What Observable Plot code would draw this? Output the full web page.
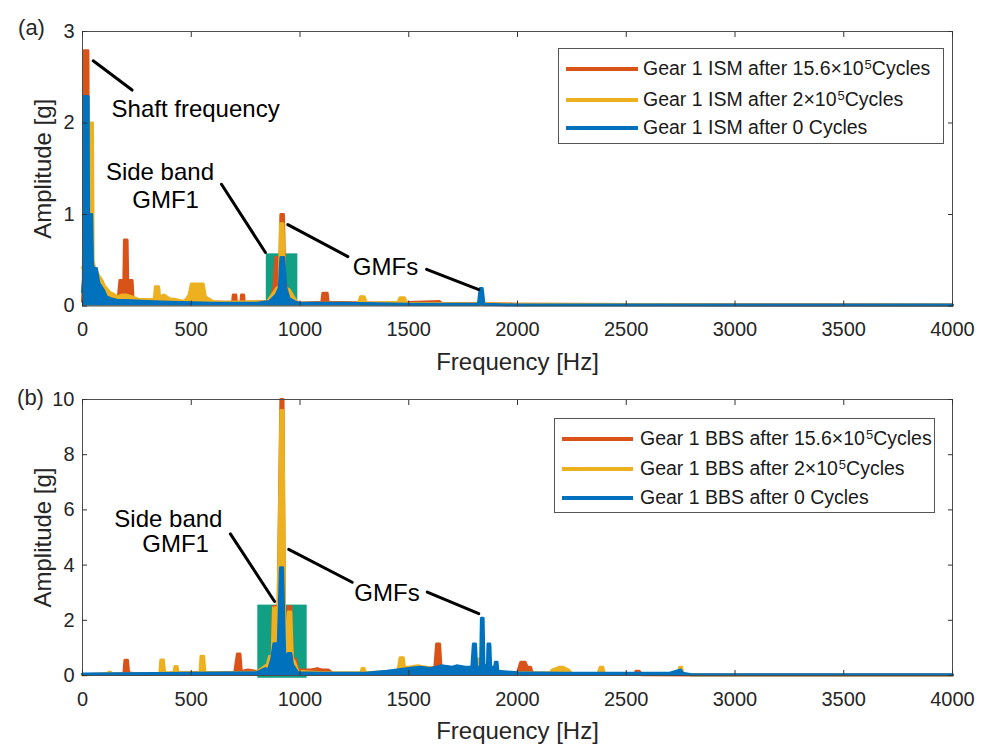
<!DOCTYPE html>
<html><head><meta charset="utf-8">
<script src="https://cdn.jsdelivr.net/npm/d3@7"></script>
<script src="https://cdn.jsdelivr.net/npm/@observablehq/plot@0.6"></script>
<style>
body{margin:0;background:#fff;font-family:"Liberation Sans",Arial,sans-serif;}
#fig{position:relative;width:987px;height:744px;overflow:hidden;background:#fff;}
.panel{position:absolute;left:0;}
.legend{position:absolute;border:1px solid #555;background:#fff;box-sizing:border-box;color:#1a1a1a;font-size:19.5px;}
.legend .ln{position:absolute;height:4px;transform:translateY(-50%);}
.legend .tx{position:absolute;white-space:nowrap;transform:translateY(-50%);line-height:1;}
.legend sup{font-size:13px;vertical-align:0.5em;line-height:0;margin-left:1px;}
</style></head>
<body><div id="fig"></div>
<script>
// ---------- data ----------
const xTicks = [0,500,1000,1500,2000,2500,3000,3500,4000];
const yTicksA = [0,1,2,3];
const yTicksB = [0,2,4,6,8,10];
const seriesColors = ["#D95319","#EDB120","#0072BD"];
const legendA = ["Gear 1 ISM after 15.6×10|5|Cycles","Gear 1 ISM after 2×10|5|Cycles","Gear 1 ISM after 0 Cycles"];
const legendB = ["Gear 1 BBS after 15.6×10|5|Cycles","Gear 1 BBS after 2×10|5|Cycles","Gear 1 BBS after 0 Cycles"];

// Panel (a): [frequency Hz, amplitude g]
const ismCycles156 = [[0,0.05],[5,0.3],[8,2.79],[25,2.79],[28,0.5],[40,0.3],[60,0.15],[100,0.08],[140,0.1],[150,0.06],[165,0.1],[172,0.28],[190,0.28],[193,0.72],[205,0.72],[208,0.28],[228,0.28],[232,0.1],[240,0.08],[260,0.05],[400,0.04],[600,0.04],[690,0.04],[693,0.12],[705,0.12],[708,0.04],[728,0.04],[731,0.12],[741,0.12],[744,0.04],[860,0.05],[880,0.2],[888,0.53],[900,0.53],[906,0.3],[912,1.0],[924,1.0],[930,0.3],[950,0.1],[990,0.03],[1100,0.04],[1105,0.14],[1125,0.14],[1130,0.04],[1400,0.03],[1640,0.05],[1650,0.03],[2000,0.02],[4000,0.01]];
const ismCycles2 = [[0,0.42],[4,0.42],[8,0.2],[28,0.3],[30,2.0],[46,2.0],[49,0.5],[55,0.42],[65,0.38],[75,0.33],[90,0.28],[100,0.22],[115,0.18],[125,0.15],[143,0.13],[160,0.1],[180,0.12],[200,0.12],[230,0.1],[260,0.07],[300,0.07],[330,0.07],[335,0.21],[350,0.21],[355,0.1],[375,0.12],[400,0.08],[430,0.07],[470,0.05],[490,0.12],[500,0.24],[555,0.24],[565,0.1],[600,0.05],[650,0.04],[850,0.05],[880,0.15],[895,0.2],[905,0.2],[910,0.9],[922,0.9],[930,0.2],[950,0.18],[970,0.1],[990,0.03],[1270,0.03],[1278,0.1],[1295,0.1],[1305,0.03],[1450,0.04],[1460,0.09],[1480,0.09],[1490,0.03],[2000,0.02],[4000,0.01]];
const ismCycles0 = [[0,0.15],[4,0.3],[8,2.29],[26,2.29],[28,1.0],[42,1.0],[46,0.45],[52,0.41],[64,0.41],[75,0.25],[97,0.17],[110,0.1],[130,0.08],[160,0.06],[200,0.06],[300,0.05],[400,0.04],[600,0.03],[800,0.03],[860,0.05],[890,0.12],[905,0.2],[912,0.53],[925,0.53],[935,0.2],[950,0.08],[980,0.04],[1000,0.03],[1200,0.03],[1500,0.02],[1820,0.02],[1828,0.19],[1838,0.19],[1846,0.02],[2000,0.01],[4000,0.01]];

// Panel (b)
const bbsCycles156 = [[0,0.03],[100,0.05],[190,0.05],[195,0.55],[207,0.55],[212,0.1],[250,0.05],[400,0.08],[450,0.1],[600,0.1],[700,0.12],[712,0.78],[724,0.78],[730,0.15],[760,0.2],[800,0.15],[850,0.2],[870,0.4],[878,2.5],[890,2.5],[896,0.6],[912,10.0],[922,10.0],[930,0.8],[946,2.5],[958,2.5],[965,0.6],[980,0.6],[990,0.2],[1050,0.2],[1080,0.25],[1100,0.2],[1130,0.2],[1150,0.08],[1300,0.05],[1550,0.2],[1620,0.3],[1628,1.14],[1642,1.14],[1648,0.3],[1700,0.2],[1800,0.1],[2000,0.1],[2015,0.48],[2035,0.48],[2045,0.3],[2060,0.3],[2070,0.05],[2540,0.05],[2545,0.15],[2560,0.15],[2570,0.03],[2800,0.02],[4000,0.02]];
const bbsCycles2 = [[0,0.03],[115,0.05],[120,0.12],[130,0.12],[135,0.05],[355,0.05],[360,0.56],[372,0.56],[378,0.1],[420,0.1],[425,0.33],[435,0.33],[440,0.1],[540,0.1],[545,0.7],[557,0.7],[563,0.12],[650,0.1],[800,0.12],[850,0.4],[860,0.7],[872,0.7],[878,2.45],[890,2.45],[896,0.6],[912,9.6],[922,9.6],[930,0.8],[946,2.3],[958,2.3],[965,0.6],[975,0.5],[990,0.15],[1100,0.1],[1280,0.1],[1285,0.25],[1295,0.25],[1300,0.1],[1450,0.15],[1460,0.64],[1475,0.64],[1480,0.3],[1500,0.3],[1540,0.35],[1580,0.3],[1650,0.2],[1800,0.1],[1815,0.6],[1825,0.6],[1835,0.1],[2150,0.1],[2160,0.2],[2195,0.3],[2210,0.3],[2235,0.2],[2250,0.05],[2370,0.05],[2380,0.3],[2392,0.3],[2400,0.05],[2740,0.05],[2745,0.3],[2755,0.3],[2760,0.05],[2800,0.02],[4000,0.02]];
const bbsCycles0 = [[0,0.05],[500,0.08],[800,0.1],[840,0.25],[855,0.2],[870,0.6],[880,1.15],[890,1.15],[898,0.6],[910,3.9],[920,3.9],[930,0.6],[945,0.8],[958,0.8],[965,0.4],[990,0.1],[1100,0.08],[1300,0.08],[1400,0.15],[1500,0.25],[1550,0.3],[1600,0.25],[1650,0.35],[1700,0.3],[1720,0.35],[1760,0.3],[1790,0.3],[1797,1.14],[1807,1.14],[1812,0.3],[1830,0.3],[1834,2.07],[1842,2.07],[1846,0.3],[1862,0.4],[1864,1.14],[1873,1.14],[1877,0.3],[1895,0.3],[1898,0.48],[1906,0.48],[1910,0.15],[2000,0.1],[2200,0.08],[2700,0.08],[2750,0.2],[2760,0.08],[2800,0.03],[4000,0.03]];

// side-band boxes [f1, f2, a1, a2]
const sideBoxA = [845, 990, 0, 0.57];
const sideBoxB = [806, 1033, -0.1, 2.55];

// annotation leader lines (segments of [f, a])
const leadersA = [[[49,2.68],[228,2.36]], [[639,1.33],[841,0.585]], [[944,0.89],[1220,0.54]], [[1582,0.40],[1822,0.18]]];
const leadersB = [[[680,5.13],[883,2.68]], [[948,4.57],[1240,3.38]], [[1585,3.02],[1822,2.24]]];
const notesA = [{t:"Shaft frequency",f:520,a:2.15},{t:"Side band",f:356,a:1.46},{t:"GMF1",f:382,a:1.16},{t:"GMFs",f:1393,a:0.42}];
const notesB = [{t:"Side band",f:395,a:5.65},{t:"GMF1",f:428,a:4.75},{t:"GMFs",f:1400,a:2.99}];

// ---------- drawing ----------
const fig = document.getElementById("fig");
const FONT = '"Liberation Sans", Arial, sans-serif';

function panel({series, yDomain, yTicks, box, leaders, notes, tag, top, height, marginTop, marginBottom}) {
  const marks = [
    Plot.rect([box], {x1: d => d[0], x2: d => d[1], y1: d => d[2], y2: d => d[3], fill: "#11A084"})
  ];
  series.forEach((s, i) => {
    marks.push(Plot.areaY(s, {x: d => d[0], y: d => d[1], fill: seriesColors[i]}));
    marks.push(Plot.lineY(s, {x: d => d[0], y: d => d[1], stroke: seriesColors[i], strokeWidth: 3, strokeLinejoin: "round"}));
  });
  leaders.forEach(seg => marks.push(Plot.line(seg, {x: d => d[0], y: d => d[1], stroke: "black", strokeWidth: 3})));
  marks.push(Plot.text(notes, {x: "f", y: "a", text: "t", fontSize: 24, fill: "black", textAnchor: "middle", lineAnchor: "middle"}));
  marks.push(Plot.frame({stroke: "#4d4d4d", strokeWidth: 1}));
  marks.push(Plot.axisX({anchor: "bottom", ticks: xTicks, tickSize: -5, tickPadding: 21, stroke: "#333", fill: "#262626", label: null, tickFormat: d => String(d)}));
  marks.push(Plot.axisX({anchor: "top", ticks: xTicks, tickSize: -5, stroke: "#333", fill: "none", label: null}));
  marks.push(Plot.axisY({anchor: "left", ticks: yTicks, tickSize: -5, tickPadding: 13, stroke: "#333", fill: "#262626", label: null, tickFormat: d => String(d)}));
  marks.push(Plot.axisY({anchor: "right", ticks: yTicks, tickSize: -5, stroke: "#333", fill: "none", label: null}));
  marks.push(Plot.text(["Frequency [Hz]"], {frameAnchor: "bottom", dy: 56, fontSize: 24, fill: "#262626", textAnchor: "middle", lineAnchor: "middle"}));
  marks.push(Plot.text(["Amplitude [g]"], {frameAnchor: "left", dx: -39, rotate: -90, fontSize: 24, fill: "#262626", textAnchor: "middle", lineAnchor: "middle"}));
  marks.push(Plot.text([tag.label], {frameAnchor: "top-left", dx: tag.dx, dy: tag.dy, fontSize: 22, fill: "#262626", textAnchor: "middle", lineAnchor: "middle"}));
  const svg = Plot.plot({
    width: 987, height, marginTop, marginBottom, marginLeft: 82, marginRight: 35,
    style: {fontFamily: FONT, fontSize: "20px", color: "#262626", background: "transparent", overflow: "visible"},
    x: {domain: [0, 4000]},
    y: {domain: yDomain},
    marks
  });
  svg.classList.add("panel");
  svg.style.top = top + "px";
  fig.appendChild(svg);
}

panel({series: [ismCycles156, ismCycles2, ismCycles0], yDomain: [0,3], yTicks: yTicksA, box: sideBoxA,
  leaders: leadersA, notes: notesA, tag: {label: "(a)", dx: -51, dy: -4}, top: 0, height: 390, marginTop: 31, marginBottom: 84.5});
panel({series: [bbsCycles156, bbsCycles2, bbsCycles0], yDomain: [0,10], yTicks: yTicksB, box: sideBoxB,
  leaders: leadersB, notes: notesB, tag: {label: "(b)", dx: -52, dy: -2}, top: 372, height: 372, marginTop: 27, marginBottom: 69});

function legend(labels, left, top, w, h, rows, lineX, lineW, textX) {
  const div = document.createElement("div");
  div.className = "legend";
  Object.assign(div.style, {left: left + "px", top: top + "px", width: w + "px", height: h + "px"});
  labels.forEach((lab, i) => {
    const ln = document.createElement("div");
    ln.className = "ln";
    Object.assign(ln.style, {left: lineX + "px", top: rows[i] + "px", width: lineW + "px", background: seriesColors[i]});
    div.appendChild(ln);
    const tx = document.createElement("div");
    tx.className = "tx";
    Object.assign(tx.style, {left: textX + "px", top: rows[i] + "px"});
    const parts = lab.split("|");
    tx.appendChild(document.createTextNode(parts[0]));
    if (parts.length > 1) {
      const sup = document.createElement("sup"); sup.textContent = parts[1]; tx.appendChild(sup);
      tx.appendChild(document.createTextNode(parts[2]));
    }
    div.appendChild(tx);
  });
  fig.appendChild(div);
}
legend(legendA, 558, 48, 386, 96, [20, 51, 79], 7, 72, 84);
legend(legendB, 554, 418, 381, 95, [20, 50, 79], 7, 71, 85);
</script></body></html>
